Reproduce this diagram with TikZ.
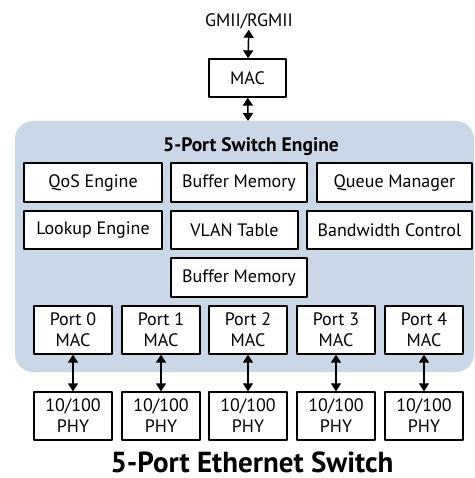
\documentclass[tikz,border=0pt]{standalone}
\usepackage{fontspec}
\setmainfont{PT Sans}
\usetikzlibrary{arrows.meta}
\definecolor{enginebg}{RGB}{201,215,231}

\begin{document}
\begin{tikzpicture}[x=1pt, y=-1pt, line cap = round, line join = round, >={Triangle[width=10pt,length=8pt]}, font=\fontsize{18}{21}\selectfont]
\tikzstyle{block}=[draw=black, line width=1.3pt, fill=white, inner sep=0pt, align=center]
\tikzstyle{portbox}=[block, minimum width=78pt, minimum height=48pt]
\tikzstyle{link}=[line width=1.5pt, <->, color=black]
\useasboundingbox (0,0) rectangle (474,478);
\fill[enginebg, rounded corners=18pt] (15,121) rectangle (474,372);

\node[inner sep=0pt, anchor=base] (gmii) at (249,27) {GMII/RGMII};
\node[block, minimum width=77pt, minimum height=38pt] (mac) at (247.5,78) {MAC};
\coordinate (engtop) at (248,121);
\draw[link] (gmii) -- (mac);
\draw[link] (mac) -- (engtop);

\node[anchor=base, inner sep=0pt] (engine) at (251,152) {\fontsize{19.5}{22}\selectfont\bfseries 5-Port Switch Engine};

\node[block, minimum width=138pt, minimum height=39pt] (qos) at (93,182.5) {QoS Engine};
\node[block, minimum width=136pt, minimum height=39pt] (buf1) at (239,182.5) {Buffer Memory};
\node[block, minimum width=155pt, minimum height=39pt] (queue) at (394.5,182.5) {Queue Manager};
\node[block, minimum width=138pt, minimum height=38pt] (lookup) at (93,230) {Lookup Engine};
\node[block, minimum width=127pt, minimum height=38pt] (vlan) at (234.5,230) {VLAN Table};
\node[block, minimum width=165pt, minimum height=38pt] (bw) at (389.5,230) {Bandwidth Control};
\node[block, minimum width=136pt, minimum height=39pt] (buf2) at (239,277.5) {Buffer Memory};

\foreach \i/\x in {0/73,1/161,2/248,3/336,4/424}{
  \node[portbox] (port\i) at (\x,330) {Port \i\\MAC};
  \node[portbox] (phy\i) at (\x,416) {10/100\\PHY};
  \draw[link] (port\i) -- (phy\i);
}

\node[anchor=base, inner sep=0pt] (title) at (252,472) {\fontsize{29}{32}\selectfont\bfseries 5-Port Ethernet Switch};
\end{tikzpicture}
\end{document}
